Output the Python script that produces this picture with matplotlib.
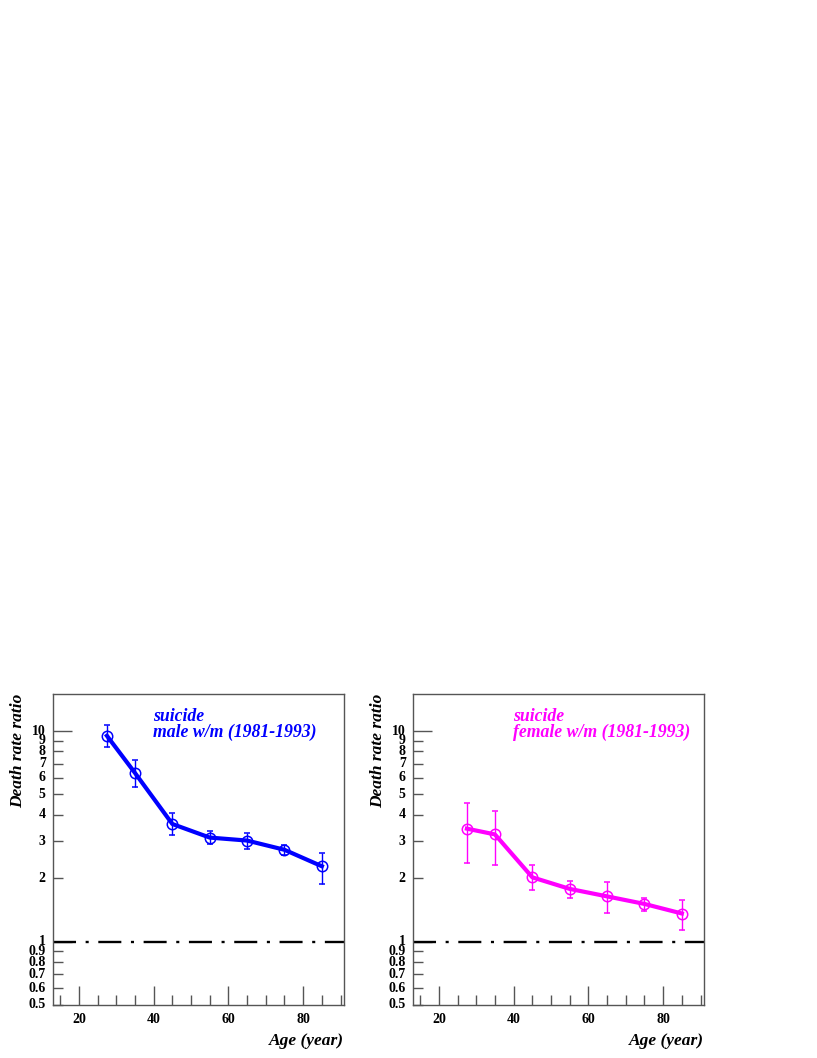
import numpy as np
import matplotlib
matplotlib.use("Agg")
import matplotlib.pyplot as plt
from matplotlib.ticker import FixedLocator, NullFormatter

# Age bin centres
ages = [27.5, 35, 45, 55, 65, 75, 85]

# Death rate ratio, suicide, w/m (1981-1993)
male_ratio = [9.5, 6.33, 3.62, 3.12, 3.02, 2.73, 2.28]
male_hi = [10.7, 7.27, 4.08, 3.34, 3.29, 2.89, 2.64]
male_lo = [8.36, 5.41, 3.20, 2.90, 2.74, 2.57, 1.88]

female_ratio = [3.44, 3.23, 2.02, 1.78, 1.64, 1.51, 1.36]
female_hi = [4.54, 4.15, 2.31, 1.94, 1.92, 1.62, 1.57]
female_lo = [2.36, 2.32, 1.76, 1.62, 1.37, 1.405, 1.14]

ytick_vals = [0.5, 0.6, 0.7, 0.8, 0.9, 1, 2, 3, 4, 5, 6, 7, 8, 9, 10]
ytick_labels = ["0.5", "0.6", "0.7", "0.8", "0.9", "1", "2", "3", "4",
                "5", "6", "7", "8", "9", "10"]
xmajor = [20, 40, 60, 80]

panels = [
    ("male w/m (1981-1993)", male_ratio, male_lo, male_hi, "#0000ff"),
    ("female w/m (1981-1993)", female_ratio, female_lo, female_hi, "#ff00ff"),
]

SERIF = ["Liberation Serif", "DejaVu Serif"]
FRAME = "#555555"

W, H = 817, 1058
fig = plt.figure(figsize=(W / 100, H / 100), dpi=100)

lefts = [52.7, 412.7]
for (label, ratio, lo, hi, color), left in zip(panels, lefts):
    ax = fig.add_axes([left / W, (H - 1005) / H, 291.6 / W, 311 / H])
    ax.set_yscale("log")
    ax.set_xlim(13, 91)
    ax.set_ylim(0.5, 15)

    for side in ["left", "bottom", "right", "top"]:
        ax.spines[side].set_color(FRAME)
        ax.spines[side].set_linewidth(1.0)

    # y ticks: long at decades, short elsewhere
    ax.yaxis.set_major_locator(FixedLocator([1, 10]))
    ax.yaxis.set_minor_locator(FixedLocator([v for v in ytick_vals if v not in (1, 10)]))
    ax.yaxis.set_major_formatter(NullFormatter())
    ax.yaxis.set_minor_formatter(NullFormatter())
    ax.tick_params(axis="y", which="major", direction="in", length=14, width=1,
                   color=FRAME, left=True, right=False)
    ax.tick_params(axis="y", which="minor", direction="in", length=7, width=1,
                   color=FRAME, left=True, right=False)
    for v, t in zip(ytick_vals, ytick_labels):
        ax.annotate(t, xy=(0, v), xycoords=("axes fraction", "data"),
                    xytext=(-5, 0), textcoords="offset points",
                    ha="right", va="center", fontsize=10, fontweight="bold",
                    family=SERIF)

    # x ticks
    ax.xaxis.set_major_locator(FixedLocator(xmajor))
    ax.xaxis.set_minor_locator(FixedLocator([v for v in range(15, 91, 5) if v not in xmajor]))
    ax.set_xticklabels([str(v) for v in xmajor], fontsize=10, fontweight="bold",
                       family=SERIF)
    ax.tick_params(axis="x", which="major", direction="in", length=14, width=1,
                   color=FRAME, pad=6, top=False)
    ax.tick_params(axis="x", which="minor", direction="in", length=7, width=1,
                   color=FRAME, top=False)

    # reference line at ratio 1
    ax.axhline(1, color="black", lw=1.7, dashes=(9.75, 4.07, 1.3, 4.07), zorder=2)

    ratio_a = np.array(ratio)
    yerr = [ratio_a - np.array(lo), np.array(hi) - ratio_a]
    ax.plot(ages, ratio, color=color, lw=3.0, zorder=3)
    ax.errorbar(ages, ratio, yerr=yerr, fmt="o", mfc="none", mec=color,
                ms=7.5, mew=1.1, ecolor=color, elinewidth=1.0, capsize=2.5,
                capthick=1.0, zorder=4)

    ax.text(0.345, 0.955, "suicide\n" + label, transform=ax.transAxes,
            color=color, fontsize=12.8, fontweight="bold", style="italic",
            family=SERIF, ha="left", va="top", linespacing=0.9)

    fig.text((left - 35) / W, 1 - 694 / H, "Death rate ratio", rotation=90,
             ha="center", va="top", fontsize=12.5, fontweight="bold",
             style="italic", family=SERIF)
    fig.text((left + 291.6) / W, 1 - 1041 / H, "Age (year)", ha="right",
             va="center", fontsize=12.5, fontweight="bold", style="italic",
             family=SERIF)

fig.savefig("out.png", dpi=100)
